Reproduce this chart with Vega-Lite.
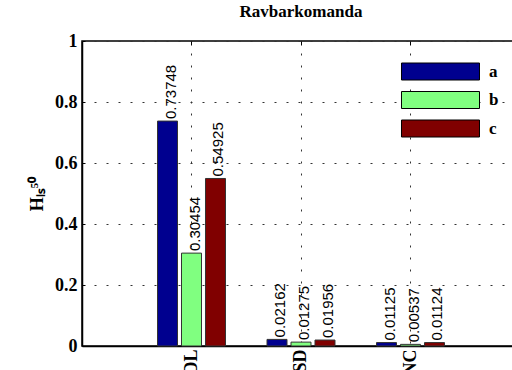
{
  "$schema": "https://vega.github.io/schema/vega-lite/v6.json",
  "width": 438,
  "height": 305,
  "autosize": {"type": "none"},
  "padding": {"left": 82, "top": 41, "right": 0, "bottom": 30},
  "background": "white",
  "title": {"text": "Ravbarkomanda", "font": "Liberation Serif", "fontSize": 17, "fontWeight": "bold", "offset": 11, "color": "black"},
  "data": {"values": [
    {"group": "DL", "series": "a", "value": 0.73748},
    {"group": "DL", "series": "b", "value": 0.30454},
    {"group": "DL", "series": "c", "value": 0.54925},
    {"group": "SD", "series": "a", "value": 0.02162},
    {"group": "SD", "series": "b", "value": 0.01275},
    {"group": "SD", "series": "c", "value": 0.01956},
    {"group": "NC", "series": "a", "value": 0.01125},
    {"group": "NC", "series": "b", "value": 0.00537},
    {"group": "NC", "series": "c", "value": 0.01124}
  ]},
  "encoding": {
    "xOffset": {"field": "series", "type": "nominal", "sort": ["a", "b", "c"], "scale": {"paddingInner": 0.1667, "paddingOuter": 0.865}},
    "y": {"field": "value", "type": "quantitative", "scale": {"domain": [0, 1], "nice": false},
      "axis": {"values": [0, 0.2, 0.4, 0.6, 0.8, 1], "format": "~g", "title": "Hₗₛ⁵⁰", "titleFont": "Liberation Serif", "titleFontSize": 18, "titleFontWeight": "bold", "titleColor": "black", "titlePadding": 8,
        "labelFont": "Liberation Serif", "labelFontSize": 18, "labelFontWeight": "bold", "labelColor": "black", "labelPadding": 8,
        "tickSize": -3, "tickColor": "black", "domainColor": "black", "domainWidth": 1.5,
        "grid": true, "gridDash": [2, 10], "gridColor": "#333", "gridWidth": 1}}
  },
  "layer": [
    {
      "mark": {"type": "bar", "stroke": "#333", "strokeWidth": 1},
      "encoding": {
        "x": {"field": "group", "type": "nominal", "sort": ["DL", "SD", "NC"], "scale": {"paddingInner": 0, "paddingOuter": 0.5},
          "axis": {"orient": "bottom", "title": null, "labelAngle": 270, "labelFont": "Liberation Serif", "labelFontSize": 18, "labelFontWeight": "bold", "labelColor": "black", "labelPadding": 3,
            "ticks": false, "domainColor": "black", "domainWidth": 1.5, "grid": true, "bandPosition": 0.5, "gridDash": [2, 10], "gridColor": "#333"}},
        "color": {"field": "series", "type": "nominal", "scale": {"domain": ["a", "b", "c"], "range": ["#00008F", "#80FF80", "#800000"]},
          "legend": {"orient": "none", "legendX": 349.5, "legendY": 21.5, "title": null, "symbolType": "M-4.59,-1H4.59V1H-4.59Z", "symbolSize": 289, "symbolStrokeColor": "black", "symbolStrokeWidth": 1, "symbolOpacity": 1,
            "labelFont": "Liberation Serif", "labelFontSize": 17, "labelFontWeight": "bold", "labelColor": "black", "labelOffset": 39.5, "rowPadding": 6.5, "padding": 0}}
      }
    },
    {
      "mark": {"type": "text", "angle": 270, "align": "left", "baseline": "middle", "dx": 2, "dy": 3, "font": "Liberation Sans", "fontSize": 15, "color": "black"},
      "encoding": {
        "x": {"field": "group", "type": "nominal", "sort": ["DL", "SD", "NC"],
          "axis": {"orient": "top", "title": null, "labels": false, "domain": false, "grid": false, "ticks": true, "tickSize": -4, "tickColor": "black", "bandPosition": 0.5}},
        "text": {"field": "value", "type": "quantitative", "format": ".5f"}
      }
    }
  ],
  "config": {"view": {"stroke": "black", "strokeWidth": 1.5}}
}
